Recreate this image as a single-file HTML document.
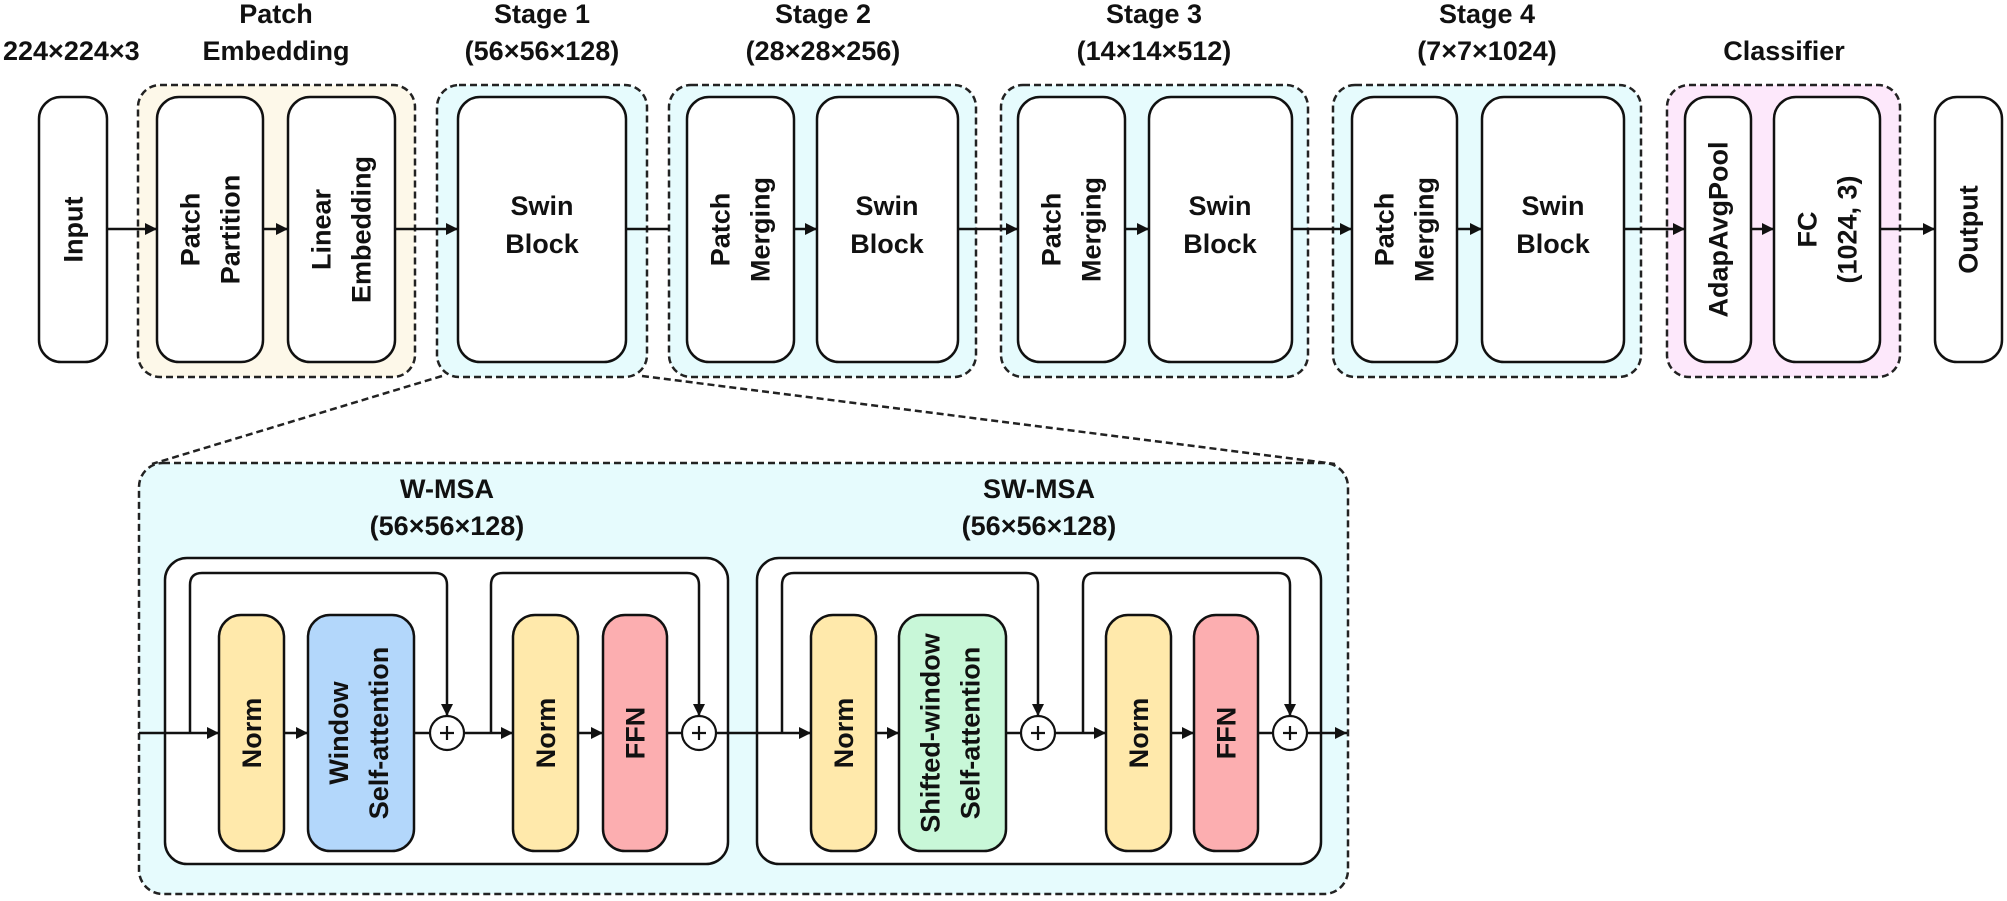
<!DOCTYPE html>
<html><head><meta charset="utf-8"><style>
html,body{margin:0;padding:0;background:#fff;}
svg{display:block;}
text{font-family:"Liberation Sans",Arial,sans-serif;font-weight:bold;font-size:27px;fill:#111;}
</style></head><body>
<svg width="2007" height="901" viewBox="0 0 2007 901" xmlns="http://www.w3.org/2000/svg">
<defs>
<marker id="ah" markerUnits="userSpaceOnUse" markerWidth="14" markerHeight="14" refX="12" refY="6" orient="auto">
<path d="M0,0 L12,6 L0,12 z" fill="#111"/>
</marker>
</defs>

<!-- titles -->
<text x="3" y="60">224×224×3</text>
<text x="276" y="23" text-anchor="middle">Patch</text>
<text x="276" y="60" text-anchor="middle">Embedding</text>
<text x="542" y="23" text-anchor="middle">Stage 1</text>
<text x="542" y="60" text-anchor="middle">(56×56×128)</text>
<text x="823" y="23" text-anchor="middle">Stage 2</text>
<text x="823" y="60" text-anchor="middle">(28×28×256)</text>
<text x="1154" y="23" text-anchor="middle">Stage 3</text>
<text x="1154" y="60" text-anchor="middle">(14×14×512)</text>
<text x="1487" y="23" text-anchor="middle">Stage 4</text>
<text x="1487" y="60" text-anchor="middle">(7×7×1024)</text>
<text x="1784" y="60" text-anchor="middle">Classifier</text>

<!-- dashed group boxes -->
<g stroke="#222" stroke-width="2.5" stroke-dasharray="7,4">
<rect x="138" y="85" width="277" height="292" rx="22" fill="#fdf8e9"/>
<rect x="437" y="85" width="210" height="292" rx="22" fill="#e6fbfd"/>
<rect x="669" y="85" width="307" height="292" rx="22" fill="#e6fbfd"/>
<rect x="1001" y="85" width="307" height="292" rx="22" fill="#e6fbfd"/>
<rect x="1333" y="85" width="308" height="292" rx="22" fill="#e6fbfd"/>
<rect x="1667" y="85" width="233" height="292" rx="22" fill="#fde8fb"/>
</g>

<!-- top inner boxes -->
<g stroke="#111" stroke-width="2.5" fill="#fff">
<rect x="39" y="97" width="68" height="265" rx="22"/>
<rect x="157" y="97" width="106" height="265" rx="22"/>
<rect x="288" y="97" width="107" height="265" rx="22"/>
<rect x="458" y="97" width="168" height="265" rx="22"/>
<rect x="687" y="97" width="107" height="265" rx="22"/>
<rect x="817" y="97" width="141" height="265" rx="22"/>
<rect x="1018" y="97" width="107" height="265" rx="22"/>
<rect x="1149" y="97" width="143" height="265" rx="22"/>
<rect x="1352" y="97" width="105" height="265" rx="22"/>
<rect x="1482" y="97" width="142" height="265" rx="22"/>
<rect x="1685" y="97" width="66" height="265" rx="22"/>
<rect x="1774" y="97" width="106" height="265" rx="22"/>
<rect x="1935" y="97" width="67" height="265" rx="22"/>
</g>

<!-- top arrows -->
<g stroke="#111" stroke-width="2.5">
<line x1="107" y1="229" x2="157" y2="229" marker-end="url(#ah)"/>
<line x1="263" y1="229" x2="288" y2="229" marker-end="url(#ah)"/>
<line x1="395" y1="229" x2="458" y2="229" marker-end="url(#ah)"/>
<line x1="626" y1="229" x2="669" y2="229"/>
<line x1="794" y1="229" x2="817" y2="229" marker-end="url(#ah)"/>
<line x1="958" y1="229" x2="1018" y2="229" marker-end="url(#ah)"/>
<line x1="1125" y1="229" x2="1149" y2="229" marker-end="url(#ah)"/>
<line x1="1292" y1="229" x2="1352" y2="229" marker-end="url(#ah)"/>
<line x1="1457" y1="229" x2="1482" y2="229" marker-end="url(#ah)"/>
<line x1="1624" y1="229" x2="1685" y2="229" marker-end="url(#ah)"/>
<line x1="1751" y1="229" x2="1774" y2="229" marker-end="url(#ah)"/>
<line x1="1880" y1="229" x2="1935" y2="229" marker-end="url(#ah)"/>
</g>

<!-- top labels -->
<text transform="translate(73,229.5) rotate(-90)" text-anchor="middle" y="9.5">Input</text>
<text transform="translate(210,229.5) rotate(-90)" text-anchor="middle"><tspan x="0" y="-10.5">Patch</tspan><tspan x="0" y="29.5">Partition</tspan></text>
<text transform="translate(341,229.5) rotate(-90)" text-anchor="middle"><tspan x="0" y="-10.5">Linear</tspan><tspan x="0" y="29.5">Embedding</tspan></text>
<text x="542" y="215" text-anchor="middle">Swin</text><text x="542" y="253" text-anchor="middle">Block</text>
<text transform="translate(740,229.5) rotate(-90)" text-anchor="middle"><tspan x="0" y="-10.5">Patch</tspan><tspan x="0" y="29.5">Merging</tspan></text>
<text x="887" y="215" text-anchor="middle">Swin</text><text x="887" y="253" text-anchor="middle">Block</text>
<text transform="translate(1071,229.5) rotate(-90)" text-anchor="middle"><tspan x="0" y="-10.5">Patch</tspan><tspan x="0" y="29.5">Merging</tspan></text>
<text x="1220" y="215" text-anchor="middle">Swin</text><text x="1220" y="253" text-anchor="middle">Block</text>
<text transform="translate(1404,229.5) rotate(-90)" text-anchor="middle"><tspan x="0" y="-10.5">Patch</tspan><tspan x="0" y="29.5">Merging</tspan></text>
<text x="1553" y="215" text-anchor="middle">Swin</text><text x="1553" y="253" text-anchor="middle">Block</text>
<text transform="translate(1718,229.5) rotate(-90)" text-anchor="middle" y="9.5">AdapAvgPool</text>
<text transform="translate(1827,229.5) rotate(-90)" text-anchor="middle"><tspan x="0" y="-10.5">FC</tspan><tspan x="0" y="29.5">(1024, 3)</tspan></text>
<text transform="translate(1968,229.5) rotate(-90)" text-anchor="middle" y="9.5">Output</text>

<!-- zoom connector lines -->
<g stroke="#222" stroke-width="2.5" stroke-dasharray="7,4" fill="none">
<line x1="442" y1="376" x2="152" y2="464"/>
<line x1="642" y1="376" x2="1335" y2="464"/>
</g>

<!-- big dashed box -->
<rect x="139" y="463" width="1209" height="431" rx="24" fill="#e6fbfd" stroke="#222" stroke-width="2.5" stroke-dasharray="7,4"/>

<text x="447" y="498" text-anchor="middle">W-MSA</text>
<text x="447" y="535" text-anchor="middle">(56×56×128)</text>
<text x="1039" y="498" text-anchor="middle">SW-MSA</text>
<text x="1039" y="535" text-anchor="middle">(56×56×128)</text>

<g stroke="#111" stroke-width="2.5" fill="#fff">
<rect x="165" y="558" width="563" height="306" rx="22"/>
<rect x="757" y="558" width="564" height="306" rx="22"/>
</g>

<!-- colored blocks -->
<g stroke="#111" stroke-width="2.5">
<rect x="219" y="615" width="65" height="236" rx="22" fill="#ffe9ab"/>
<rect x="308" y="615" width="106" height="236" rx="22" fill="#b3d7fb"/>
<rect x="513" y="615" width="65" height="236" rx="22" fill="#ffe9ab"/>
<rect x="603" y="615" width="64" height="236" rx="22" fill="#fcaeb0"/>
<rect x="811" y="615" width="65" height="236" rx="22" fill="#ffe9ab"/>
<rect x="899" y="615" width="107" height="236" rx="22" fill="#c8f7d8"/>
<rect x="1106" y="615" width="65" height="236" rx="22" fill="#ffe9ab"/>
<rect x="1194" y="615" width="64" height="236" rx="22" fill="#fcaeb0"/>
</g>

<!-- skip connections -->
<g stroke="#111" stroke-width="2.5" fill="none">
<path d="M190,733 V585 Q190,573 202,573 H435 Q447,573 447,585 V716" marker-end="url(#ah)"/>
<path d="M491,733 V585 Q491,573 503,573 H687 Q699,573 699,585 V716" marker-end="url(#ah)"/>
<path d="M782,733 V585 Q782,573 794,573 H1026 Q1038,573 1038,585 V716" marker-end="url(#ah)"/>
<path d="M1083,733 V585 Q1083,573 1095,573 H1278 Q1290,573 1290,585 V716" marker-end="url(#ah)"/>
</g>

<!-- main line -->
<g stroke="#111" stroke-width="2.5">
<line x1="139" y1="733" x2="219" y2="733" marker-end="url(#ah)"/>
<line x1="284" y1="733" x2="308" y2="733" marker-end="url(#ah)"/>
<line x1="414" y1="733" x2="430" y2="733"/>
<line x1="464" y1="733" x2="513" y2="733" marker-end="url(#ah)"/>
<line x1="578" y1="733" x2="603" y2="733" marker-end="url(#ah)"/>
<line x1="667" y1="733" x2="682" y2="733"/>
<line x1="716" y1="733" x2="811" y2="733" marker-end="url(#ah)"/>
<line x1="876" y1="733" x2="899" y2="733" marker-end="url(#ah)"/>
<line x1="1006" y1="733" x2="1021" y2="733"/>
<line x1="1055" y1="733" x2="1106" y2="733" marker-end="url(#ah)"/>
<line x1="1171" y1="733" x2="1194" y2="733" marker-end="url(#ah)"/>
<line x1="1258" y1="733" x2="1273" y2="733"/>
<line x1="1307" y1="733" x2="1347" y2="733" marker-end="url(#ah)"/>
</g>

<!-- plus circles -->
<g stroke="#111" stroke-width="2.2" fill="#fff">
<circle cx="447" cy="733" r="17"/><path d="M440,733 H454 M447,726 V740"/>
<circle cx="699" cy="733" r="17"/><path d="M692,733 H706 M699,726 V740"/>
<circle cx="1038" cy="733" r="17"/><path d="M1031,733 H1045 M1038,726 V740"/>
<circle cx="1290" cy="733" r="17"/><path d="M1283,733 H1297 M1290,726 V740"/>
</g>

<!-- bottom labels -->
<text transform="translate(251.5,733) rotate(-90)" text-anchor="middle" y="9.5">Norm</text>
<text transform="translate(361,733) rotate(-90)" text-anchor="middle"><tspan x="0" y="-13">Window</tspan><tspan x="0" y="27">Self-attention</tspan></text>
<text transform="translate(545.5,733) rotate(-90)" text-anchor="middle" y="9.5">Norm</text>
<text transform="translate(635,733) rotate(-90)" text-anchor="middle" y="9.5">FFN</text>
<text transform="translate(843.5,733) rotate(-90)" text-anchor="middle" y="9.5">Norm</text>
<text transform="translate(952.5,733) rotate(-90)" text-anchor="middle"><tspan x="0" y="-13">Shifted-window</tspan><tspan x="0" y="27">Self-attention</tspan></text>
<text transform="translate(1138.5,733) rotate(-90)" text-anchor="middle" y="9.5">Norm</text>
<text transform="translate(1226,733) rotate(-90)" text-anchor="middle" y="9.5">FFN</text>
</svg>
</body></html>
